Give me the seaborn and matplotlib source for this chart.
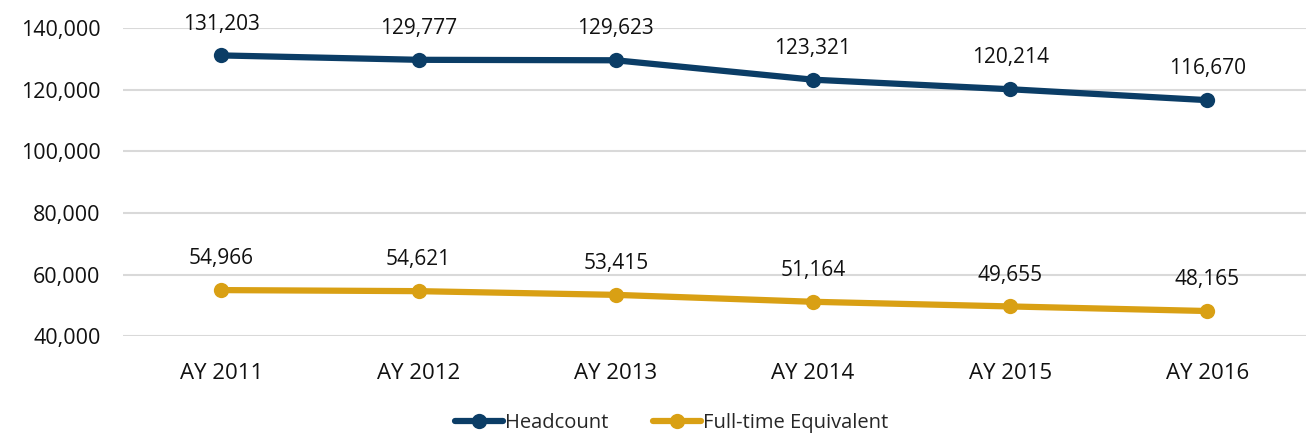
import numpy as np
import pandas as pd
import seaborn as sns
import matplotlib.pyplot as plt
from matplotlib.ticker import FuncFormatter

years = ["AY 2011", "AY 2012", "AY 2013", "AY 2014", "AY 2015", "AY 2016"]
headcount = [131203, 129777, 129623, 123321, 120214, 116670]
fte = [54966, 54621, 53415, 51164, 49655, 48165]
series_names = ["Headcount", "Full-time Equivalent"]
colors = ["#0b3d66", "#d9a014"]

sns.set_theme(style="white")
plt.rcParams["font.family"] = ["Open Sans", "DejaVu Sans"]

df = pd.DataFrame({"year": years * 2,
                   "value": headcount + fte,
                   "series": [series_names[0]] * 6 + [series_names[1]] * 6})

fig = plt.figure(figsize=(13.06, 4.36), dpi=100)
ax = fig.add_axes([0.094, 0.229, 0.906, 0.706])

sns.lineplot(data=df, x="year", y="value", hue="series", palette=colors,
             marker="o", markersize=11, markeredgewidth=0, linewidth=4.5,
             sort=False, ax=ax, legend=True)

for vals in (headcount, fte):
    for i, v in enumerate(vals):
        ax.annotate(f"{v:,}", (i, v), xytext=(0, 15), textcoords="offset points",
                    ha="center", va="bottom", fontsize=15, color="#111111")

ax.set_ylim(40000, 140000)
ax.set_xlim(-0.5, 5.5)
ax.set_yticks(np.arange(40000, 140001, 20000))
ax.yaxis.set_major_formatter(FuncFormatter(lambda v, p: f"{int(v):,}"))
ax.grid(axis="y", color="#d9d9d9", linewidth=1.5)
ax.set_axisbelow(True)
for s in ax.spines.values():
    s.set_visible(False)
ax.tick_params(axis="x", labelsize=16, colors="#111111", length=0, pad=19)
ax.tick_params(axis="y", labelsize=15.5, colors="#111111", length=0, pad=16)
ax.set_xlabel("")
ax.set_ylabel("")

handles, labels = ax.get_legend_handles_labels()
ax.get_legend().remove()
fig.legend(handles, labels, loc="center", bbox_to_anchor=(0.5145, 0.03), ncol=2,
           frameon=False, fontsize=14.5, handlelength=2.4, columnspacing=2.2,
           handletextpad=0.1, borderpad=0.1)

fig.savefig("out.png", dpi=100)
